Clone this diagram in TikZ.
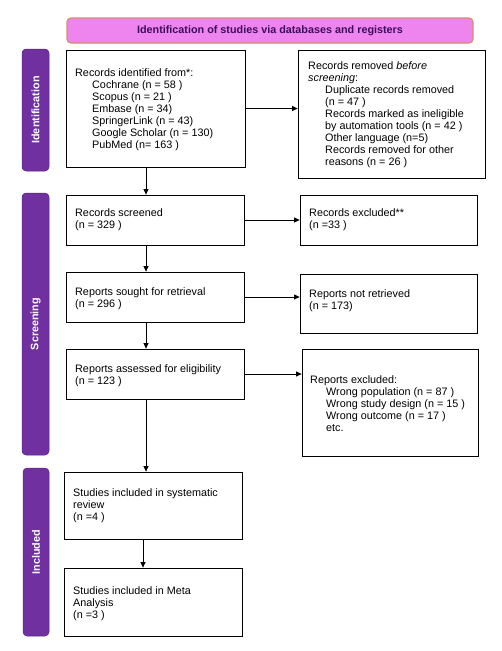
\documentclass[tikz,border=0pt]{standalone}
\usepackage{fontspec}
\setmainfont{Liberation Sans}
\usetikzlibrary{arrows.meta}
\definecolor{barpurple}{HTML}{7030A0}
\definecolor{bannerfill}{HTML}{EE84EE}
\definecolor{bannerline}{HTML}{D3906E}
\definecolor{bannertext}{HTML}{3E0E5C}
\begin{document}
\begin{tikzpicture}[x=1pt,y=-1pt,
  txt/.style={font=\fontsize{10.8}{12}\selectfont},
  boxshape/.style={draw=black,line width=0.8pt},
  bodytext/.style={txt,anchor=north west,inner sep=0pt,align=left},
  sidebar/.style={fill=barpurple,draw=barpurple!80!black,line width=0.5pt,rounded corners=4pt},
  sidelabel/.style={font=\fontsize{10.8}{12}\selectfont\bfseries,text=white,rotate=90,inner sep=0pt},
  flow/.style={draw=black,line width=0.8pt,-{Triangle[length=5.5pt,width=5pt]}}
]
\useasboundingbox (0,0) rectangle (501,651);
\fill[white] (0,0) rectangle (501,651);

% banner
\draw[fill=bannerfill,draw=bannerline,line width=1.2pt,rounded corners=4pt] (67,18) rectangle (473,43);
\node[font=\fontsize{10.8}{12}\selectfont\bfseries,text=bannertext] (banner) at (270,31) {Identification of studies via databases and registers};

% side bars
\draw[sidebar] (22,49) rectangle (49,171);
\node[sidelabel] (lblid) at (35.5,110) {Identification};
\draw[sidebar] (22,193) rectangle (49,455);
\node[sidelabel] (lblscr) at (35.5,324) {Screening};
\draw[sidebar] (23,468) rectangle (49,636);
\node[sidelabel] (lblinc) at (36,552) {Included};

% boxes
\node[boxshape,inner sep=0pt,minimum width=179pt,minimum height=117pt] (id) at (155.5,108.5) {};
\node[boxshape,inner sep=0pt,minimum width=187pt,minimum height=128pt] (rem) at (391.5,114) {};
\node[boxshape,inner sep=0pt,minimum width=178pt,minimum height=50pt] (scr) at (155,220) {};
\node[boxshape,inner sep=0pt,minimum width=177pt,minimum height=50pt] (exc) at (388.5,220) {};
\node[boxshape,inner sep=0pt,minimum width=178pt,minimum height=50pt] (sou) at (155,297) {};
\node[boxshape,inner sep=0pt,minimum width=177pt,minimum height=59pt] (nr) at (388.5,303.5) {};
\node[boxshape,inner sep=0pt,minimum width=178pt,minimum height=50pt] (ass) at (155,374) {};
\node[boxshape,inner sep=0pt,minimum width=176pt,minimum height=107pt] (rep) at (390,402.5) {};
\node[boxshape,inner sep=0pt,minimum width=178pt,minimum height=67pt] (inc) at (153,505.5) {};
\node[boxshape,inner sep=0pt,minimum width=178pt,minimum height=68pt] (meta) at (153,602) {};

% texts
\node[bodytext] (idtxt) at (75,68) {Records identified from*:\\
\hspace*{17pt}Cochrane (n = 58 )\\
\hspace*{17pt}Scopus (n = 21 )\\
\hspace*{17pt}Embase (n = 34)\\
\hspace*{17pt}SpringerLink (n = 43)\\
\hspace*{17pt}Google Scholar (n = 130)\\
\hspace*{17pt}PubMed (n= 163 )};
\node[bodytext] (remtxt) at (308,61) {Records removed \textit{before}\\
\textit{screening}:\\
\hspace*{17pt}Duplicate records removed\\
\hspace*{17pt}(n = 47 )\\
\hspace*{17pt}Records marked as ineligible\\
\hspace*{17pt}by automation tools (n = 42 )\\
\hspace*{17pt}Other language (n=5)\\
\hspace*{17pt}Records removed for other\\
\hspace*{17pt}reasons (n = 26 )};
\node[bodytext] (scrtxt) at (75,208) {Records screened\\(n = 329 )};
\node[bodytext] (exctxt) at (309,208) {Records excluded**\\(n =33 )};
\node[bodytext] (soutxt) at (75,287) {Reports sought for retrieval\\(n = 296 )};
\node[bodytext] (nrtxt) at (309,289) {Reports not retrieved\\(n = 173)};
\node[bodytext] (asstxt) at (75,364) {Reports assessed for eligibility\\(n = 123 )};
\node[bodytext] (reptxt) at (310,375) {Reports excluded:\\
\hspace*{16pt}Wrong population (n = 87 )\\
\hspace*{16pt}Wrong study design (n = 15 )\\
\hspace*{16pt}Wrong outcome (n = 17 )\\
\hspace*{16pt}etc.};
\node[bodytext] (inctxt) at (73,488) {Studies included in systematic\\review\\(n =4 )};
\node[bodytext] (metatxt) at (73,586) {Studies included in Meta\\Analysis\\(n =3 )};

% spine coordinates
\coordinate (spineA) at (146,0);
\coordinate (spineB) at (143,0);

% connectors
\draw[flow] (id.south -| spineA) -- (scr.north -| spineA);
\draw[flow] (scr.south -| spineA) -- (sou.north -| spineA);
\draw[flow] (sou.south -| spineA) -- (ass.north -| spineA);
\draw[flow] (ass.south -| spineA) -- (inc.north -| spineA);
\draw[flow] (inc.south -| spineB) -- (meta.north -| spineB);
\draw[flow] (id.east) -- (id.east -| rem.west);
\draw[flow] (scr.east) -- (scr.east -| exc.west);
\draw[flow] (sou.east) -- (sou.east -| nr.west);
\draw[flow] (ass.east) -- (ass.east -| rep.west);
\end{tikzpicture}
\end{document}
